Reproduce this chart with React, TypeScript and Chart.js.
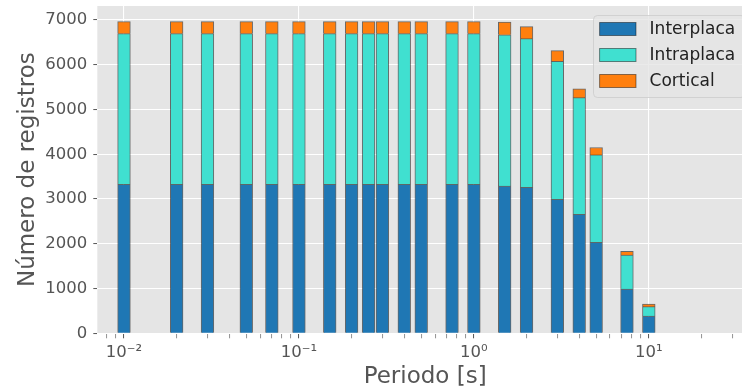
import React, { useEffect, useRef } from 'react';
import { Chart, registerables } from 'chart.js';

Chart.register(...registerables);

// ---- data ----
const periods = [0.01, 0.02, 0.03, 0.05, 0.07, 0.1, 0.15, 0.2, 0.25, 0.3, 0.4, 0.5, 0.75, 1.0, 1.5, 2.0, 3.0, 4.0, 5.0, 7.5, 10.0];
const interplaca = [3330, 3330, 3330, 3330, 3330, 3330, 3330, 3330, 3330, 3330, 3330, 3330, 3330, 3330, 3290, 3262, 2995, 2660, 2035, 990, 385];
const intraplaca = [3365, 3365, 3365, 3365, 3365, 3365, 3365, 3365, 3365, 3365, 3365, 3365, 3365, 3365, 3380, 3320, 3082, 2605, 1950, 760, 210];
const cortical = [268, 268, 268, 268, 268, 268, 268, 268, 268, 268, 268, 268, 268, 268, 285, 268, 237, 195, 165, 82, 60];

const seriesLabels = ['Interplaca', 'Intraplaca', 'Cortical'];
const seriesColors = ['#1f77b4', '#40e0d0', '#ff7f0e'];

const yTickValues = [0, 1000, 2000, 3000, 4000, 5000, 6000, 7000];
const xMajorTicks = [0.01, 0.1, 1, 10];
const xMajorLabels = ['10⁻²', '10⁻¹', '10⁰', '10¹'];
const xMinorTicks = [
  0.008, 0.009,
  0.02, 0.03, 0.04, 0.05, 0.06, 0.07, 0.08, 0.09,
  0.2, 0.3, 0.4, 0.5, 0.6, 0.7, 0.8, 0.9,
  2, 3, 4, 5, 6, 7, 8, 9,
  20, 30,
];
const xTitle = 'Periodo [s]';
const yTitle = 'Número de registros';

const X_MIN = 0.007037;
const X_MAX = 39.4;
const Y_MAX = 7312;

const FONT = '"DejaVu Sans", sans-serif';

const isMajor = (v: number) => xMajorTicks.some((m) => Math.abs(Math.log10(v) - Math.log10(m)) < 1e-6);
const majorLabel = (v: number) => {
  const i = xMajorTicks.findIndex((m) => Math.abs(Math.log10(v) - Math.log10(m)) < 1e-6);
  return i >= 0 ? xMajorLabels[i] : '';
};

const bgPlugin = {
  id: 'axesBg',
  beforeDraw(chart: any) {
    const { ctx, chartArea } = chart;
    ctx.save();
    ctx.fillStyle = '#e5e5e5';
    ctx.fillRect(chartArea.left, chartArea.top, chartArea.right - chartArea.left, chartArea.bottom - chartArea.top);
    ctx.restore();
  },
};

const legendPlugin = {
  id: 'insetLegend',
  afterDraw(chart: any) {
    const { ctx, chartArea } = chart;
    const right = chartArea.right - 8.5;
    const left = right - 151.5;
    const top = chartArea.top + 9;
    const bottom = top + 82;
    ctx.save();
    ctx.beginPath();
    ctx.roundRect(Math.round(left) + 0.5, Math.round(top) + 0.5, right - left, bottom - top, 4);
    ctx.fillStyle = 'rgba(229,229,229,0.8)';
    ctx.fill();
    ctx.strokeStyle = 'rgba(204,204,204,0.8)';
    ctx.lineWidth = 1;
    ctx.stroke();
    chart.data.datasets.forEach((ds: any, i: number) => {
      const cy = top + 14 + i * 26;
      const hx = left + 6.6;
      ctx.fillStyle = ds.backgroundColor;
      ctx.fillRect(hx, cy - 6.5, 36.4, 13);
      ctx.strokeStyle = 'rgba(0,0,0,0.45)';
      ctx.lineWidth = 1;
      ctx.strokeRect(hx, cy - 6.5, 36.4, 13);
      ctx.fillStyle = '#222';
      ctx.font = `17px ${FONT}`;
      ctx.textBaseline = 'middle';
      ctx.textAlign = 'left';
      ctx.fillText(ds.label, hx + 50, cy + 1);
    });
    ctx.restore();
  },
};

export default function App() {
  const canvasRef = useRef<HTMLCanvasElement | null>(null);

  useEffect(() => {
    const canvas = canvasRef.current;
    if (!canvas) return;
    Chart.defaults.font.family = FONT;

    const seriesValues = [interplaca, intraplaca, cortical];
    const datasets = seriesValues.map((vals, s) => ({
      label: seriesLabels[s],
      data: periods.map((p, i) => ({ x: p, y: vals[i] })),
      backgroundColor: seriesColors[s],
      borderColor: 'rgba(0,0,0,0.55)',
      borderWidth: 1,
      borderSkipped: 'start',
      barThickness: 12.7,
    }));

    const chart = new Chart(canvas, {
      type: 'bar',
      data: { datasets } as any,
      plugins: [bgPlugin, legendPlugin],
      options: {
        animation: false,
        responsive: false,
        maintainAspectRatio: false,
        devicePixelRatio: 1,
        layout: { padding: { top: 6, left: 0, right: 0, bottom: 0 } },
        plugins: {
          legend: { display: false },
          tooltip: { enabled: false },
        },
        scales: {
          x: {
            type: 'logarithmic',
            position: 'bottom',
            stacked: true,
            offset: false,
            min: X_MIN,
            max: X_MAX,
            afterBuildTicks: (axis: any) => {
              const all = [...xMajorTicks, ...xMinorTicks].sort((a, b) => a - b);
              axis.ticks = all.map((v) => ({ value: v }));
            },
            afterFit: (axis: any) => {
              axis.height = 391 - 333.3;
              axis.paddingLeft = 0;
              axis.paddingRight = 0;
              axis.paddingTop = 0;
              axis.paddingBottom = 0;
            },
            ticks: {
              autoSkip: false,
              maxRotation: 0,
              minRotation: 0,
              padding: 5,
              color: '#555',
              font: { size: 16.5, family: FONT },
              callback: (v: any) => majorLabel(Number(v)),
            },
            grid: {
              offset: false,
              color: (c: any) => (c.tick && isMajor(c.tick.value) ? '#ffffff' : 'rgba(0,0,0,0)'),
              lineWidth: 1.1,
              tickColor: (c: any) => (c.tick && isMajor(c.tick.value) ? '#555' : '#777'),
              tickWidth: (c: any) => (c.tick && isMajor(c.tick.value) ? 1 : 0.8),
              tickLength: 5,
            },
            border: { display: false },
            title: {
              display: true,
              text: xTitle,
              color: '#555',
              font: { size: 23, family: FONT },
              padding: { top: 0, bottom: 0 },
            },
          },
          y: {
            type: 'linear',
            stacked: true,
            min: 0,
            max: Y_MAX,
            afterBuildTicks: (axis: any) => {
              axis.ticks = yTickValues.map((v) => ({ value: v }));
            },
            afterFit: (axis: any) => {
              axis.width = 97.3;
              axis.paddingTop = 0;
              axis.paddingBottom = 0;
              axis.paddingLeft = 0;
              axis.paddingRight = 0;
            },
            ticks: {
              padding: 6,
              color: '#555',
              font: { size: 16.5, family: FONT },
              callback: (v: any) => String(v),
            },
            grid: {
              color: '#ffffff',
              lineWidth: 1.1,
              tickColor: '#555',
              tickLength: 4,
              tickWidth: 1,
            },
            border: { display: false },
            title: {
              display: true,
              text: yTitle,
              color: '#555',
              font: { size: 23, family: FONT },
              padding: { top: 14, bottom: 0 },
            },
          },
        },
      } as any,
    });

    return () => {
      chart.destroy();
    };
  }, []);

  return (
    <div
      style={{
        position: 'fixed',
        left: 0,
        top: 0,
        width: 742,
        height: 391,
        overflow: 'hidden',
        background: '#fff',
      }}
    >
      <canvas ref={canvasRef} width={753} height={391} style={{ display: 'block', width: 753, height: 391 }} />
    </div>
  );
}
